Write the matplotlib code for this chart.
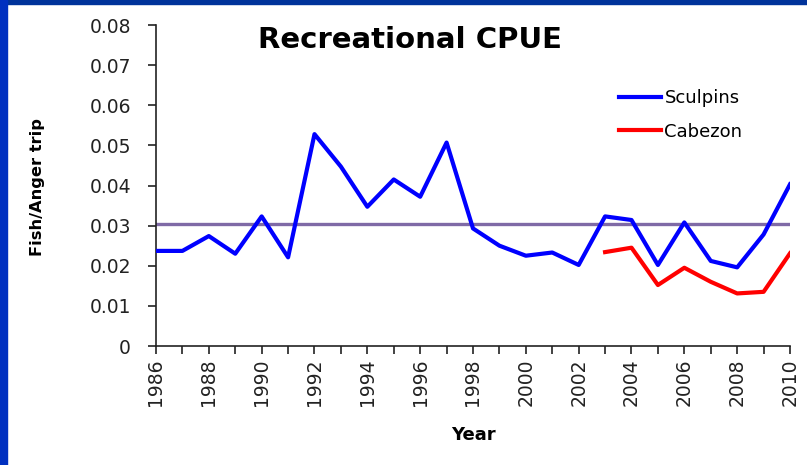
import numpy as np
import matplotlib.pyplot as plt
from matplotlib.patches import Rectangle

# values
years = list(range(1986, 2011))
sculpins = [0.0237, 0.0237, 0.0274, 0.0230, 0.0323, 0.0221, 0.0528, 0.0447,
            0.0347, 0.0415, 0.0372, 0.0507, 0.0293, 0.0250, 0.0225, 0.0233,
            0.0202, 0.0323, 0.0314, 0.0202, 0.0308, 0.0212, 0.0196, 0.0278,
            0.0403]
cabezon_years = list(range(2003, 2011))
cabezon = [0.0234, 0.0245, 0.0152, 0.0195, 0.0160, 0.0131, 0.0135, 0.0231]
mean_level = 0.0303
y_ticks = [0, 0.01, 0.02, 0.03, 0.04, 0.05, 0.06, 0.07, 0.08]
y_labels = ['0', '0.01', '0.02', '0.03', '0.04', '0.05', '0.06', '0.07', '0.08']

fig = plt.figure(figsize=(8.07, 4.65), dpi=100)
fig.patch.set_facecolor('white')

# blue slide frame (top and left edges)
fig.patches.append(Rectangle((0, 1 - 4 / 465), 1, 4 / 465, transform=fig.transFigure,
                             color='#00339a', zorder=0))
fig.patches.append(Rectangle((0, 0), 7 / 807, 1, transform=fig.transFigure,
                             color='#0030c0', zorder=0))

ax = fig.add_axes([156 / 807, 1 - 346 / 465, (790 - 156) / 807, (346 - 25) / 465])

ax.axhline(mean_level, color='#7f6aa6', lw=2.4, zorder=1)
ax.plot(years, sculpins, color='#0000ff', lw=3.0, label='Sculpins', zorder=3)
ax.plot(cabezon_years, cabezon, color='#ff0000', lw=3.0, label='Cabezon', zorder=3)

ax.set_xlim(1986, 2010)
ax.set_ylim(0, 0.08)
ax.set_yticks(y_ticks)
ax.set_yticklabels(y_labels, fontsize=13.5, color='#222222')
ax.set_xticks(years[::2])
ax.set_xticks(years, minor=True)
ax.set_xticklabels([str(y) for y in years[::2]], rotation=90, fontsize=13.5, color='#222222')

for side in ['top', 'right']:
    ax.spines[side].set_visible(False)
for side in ['left', 'bottom']:
    ax.spines[side].set_color('#222222')
    ax.spines[side].set_linewidth(1.2)
ax.tick_params(axis='both', which='both', length=6, width=1.2, color='#222222', direction='out')
ax.tick_params(axis='y', pad=12)
ax.tick_params(axis='x', pad=3)

ax.set_ylabel('Fish/Anger trip', fontsize=11.7, fontweight='bold')
ax.yaxis.set_label_coords(-0.175, 0.495)
ax.set_xlabel('Year', fontsize=13, fontweight='bold')
ax.xaxis.set_label_coords(0.5, -0.249)

fig.text(410 / 807, 1 - 40 / 465, 'Recreational CPUE', ha='center', va='center',
         fontsize=21, fontweight='bold')

ax.legend(loc='upper left', bbox_to_anchor=((603 - 156) / 634, (346 - 73) / 321),
          frameon=False, fontsize=13, handlelength=2.3, handletextpad=0.2,
          labelspacing=0.85)

plt.savefig('out.png', dpi=100)
